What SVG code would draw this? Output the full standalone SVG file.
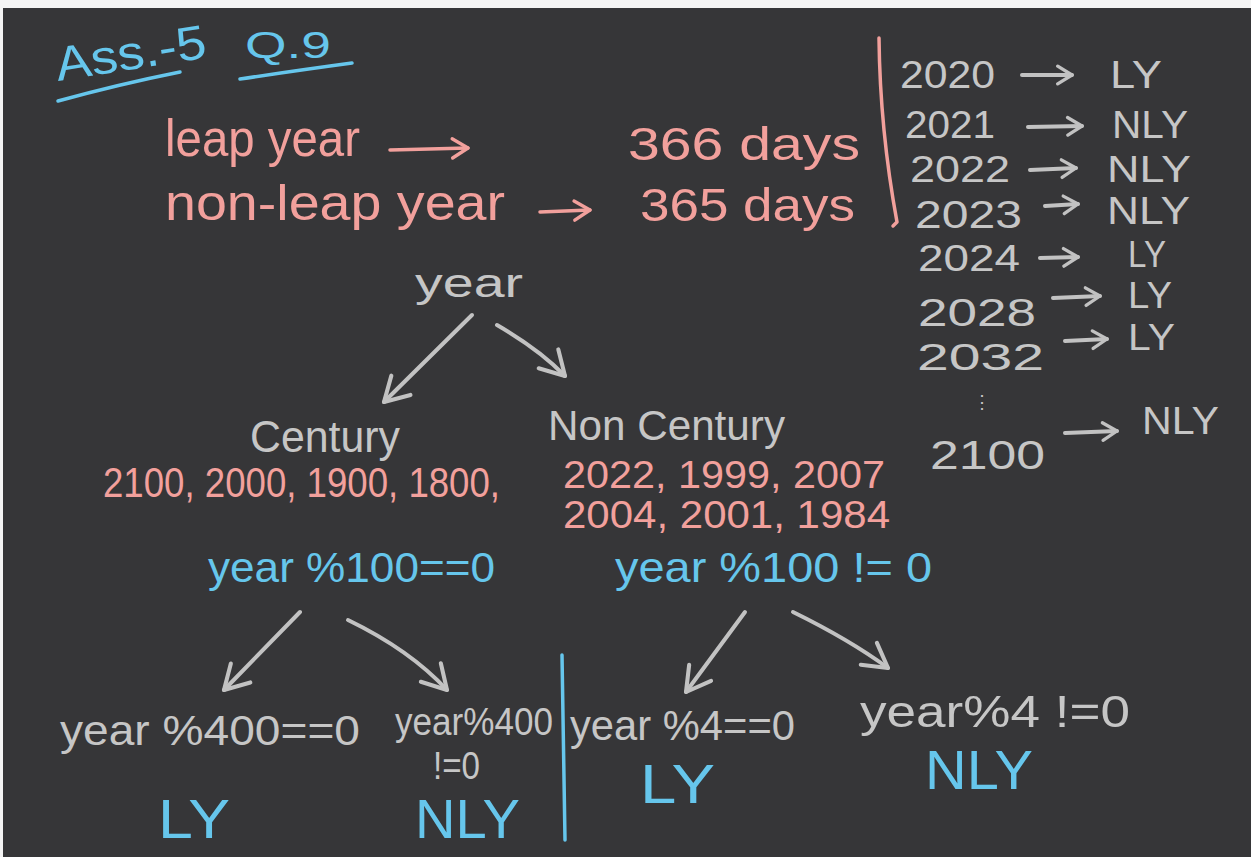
<svg xmlns="http://www.w3.org/2000/svg" width="1251" height="857" viewBox="0 0 1251 857">
<defs>
<style>
text{font-family:"Liberation Sans",Arial,sans-serif;font-weight:400;}
.cy{fill:#66c6ec;}
.pk{fill:#f2a09c;}
.gy{fill:#c6c6c6;}
.big{font-size:56px;}
.ln{fill:none;stroke-linecap:round;stroke-linejoin:round;}
.gyl{stroke:#c2c2c2;stroke-width:4;}
.pkl{stroke:#f2a09c;stroke-width:3.5;}
.cyl{stroke:#66c6ec;stroke-width:3.5;}
</style>
<marker id="hg" viewBox="0 0 20 20" refX="17" refY="10" markerWidth="34" markerHeight="34" markerUnits="userSpaceOnUse" orient="auto">
<path d="M3,2 L17,10 L3,18" fill="none" stroke="#c2c2c2" stroke-width="2.4" stroke-linecap="round" stroke-linejoin="round"/>
</marker>
<marker id="hgs" viewBox="0 0 20 20" refX="17" refY="10" markerWidth="22" markerHeight="22" markerUnits="userSpaceOnUse" orient="auto">
<path d="M4,2 L17,10 L4,18" fill="none" stroke="#c2c2c2" stroke-width="3" stroke-linecap="round" stroke-linejoin="round"/>
</marker>
<marker id="hp" viewBox="0 0 20 20" refX="17" refY="10" markerWidth="24" markerHeight="24" markerUnits="userSpaceOnUse" orient="auto">
<path d="M4,2 L17,10 L4,18" fill="none" stroke="#f2a09c" stroke-width="2.8" stroke-linecap="round" stroke-linejoin="round"/>
</marker>
</defs>
<rect x="0" y="0" width="1251" height="857" fill="#f4f4f4"/>
<rect x="3" y="8" width="1248" height="849" fill="#363638"/>

<g id="title">
<text class="cy" x="58" y="81" font-size="48" textLength="152" lengthAdjust="spacingAndGlyphs" transform="rotate(-9 58 81)">Ass.-5</text>
<text class="cy" x="245" y="58" font-size="36" textLength="86" lengthAdjust="spacingAndGlyphs">Q.9</text>
<path class="ln cyl" d="M58,101 Q120,84 180,72"/>
<path class="ln cyl" d="M240,79 Q300,70 352,63"/>
</g>

<g id="definitions">
<text class="pk" x="165" y="156" font-size="52" textLength="195" lengthAdjust="spacingAndGlyphs">leap year</text>
<text class="pk" x="628" y="160" font-size="46" textLength="232" lengthAdjust="spacingAndGlyphs">366 days</text>
<text class="pk" x="165" y="220" font-size="50" textLength="340" lengthAdjust="spacingAndGlyphs">non-leap year</text>
<text class="pk" x="640" y="221" font-size="46" textLength="215" lengthAdjust="spacingAndGlyphs">365 days</text>
<path class="ln pkl" d="M390,150 L468,148" marker-end="url(#hp)"/>
<path class="ln pkl" d="M540,212 L590,210" marker-end="url(#hp)"/>
<path class="ln pkl" d="M879,38 Q880,130 897,222 L893,226"/>
</g>

<g id="year-list">
<text class="gy" x="900" y="88" font-size="38" textLength="95" lengthAdjust="spacingAndGlyphs">2020</text>
<text class="gy" x="1110" y="88" font-size="38" textLength="52" lengthAdjust="spacingAndGlyphs">LY</text>
<text class="gy" x="905" y="138" font-size="38" textLength="90" lengthAdjust="spacingAndGlyphs">2021</text>
<text class="gy" x="1112" y="138" font-size="38" textLength="76" lengthAdjust="spacingAndGlyphs">NLY</text>
<text class="gy" x="910" y="182" font-size="36" textLength="100" lengthAdjust="spacingAndGlyphs">2022</text>
<text class="gy" x="1107" y="182" font-size="36" textLength="84" lengthAdjust="spacingAndGlyphs">NLY</text>
<text class="gy" x="915" y="228" font-size="38" textLength="107" lengthAdjust="spacingAndGlyphs">2023</text>
<text class="gy" x="1107" y="224" font-size="38" textLength="83" lengthAdjust="spacingAndGlyphs">NLY</text>
<text class="gy" x="918" y="271" font-size="36" textLength="102" lengthAdjust="spacingAndGlyphs">2024</text>
<text class="gy" x="1128" y="267" font-size="36" textLength="38" lengthAdjust="spacingAndGlyphs">LY</text>
<text class="gy" x="918" y="326" font-size="38" textLength="118" lengthAdjust="spacingAndGlyphs">2028</text>
<text class="gy" x="1128" y="308" font-size="36" textLength="44" lengthAdjust="spacingAndGlyphs">LY</text>
<text class="gy" x="917" y="370" font-size="36" textLength="127" lengthAdjust="spacingAndGlyphs">2032</text>
<text class="gy" x="1128" y="350" font-size="36" textLength="47" lengthAdjust="spacingAndGlyphs">LY</text>
<text class="gy" x="973" y="408" font-size="18">⋮</text>
<text class="gy" x="930" y="469" font-size="40" textLength="115" lengthAdjust="spacingAndGlyphs">2100</text>
<text class="gy" x="1142" y="434" font-size="38" textLength="77" lengthAdjust="spacingAndGlyphs">NLY</text>
<path class="ln gyl" d="M1022,75 L1072,75" marker-end="url(#hgs)"/>
<path class="ln gyl" d="M1028,127 L1082,126" marker-end="url(#hgs)"/>
<path class="ln gyl" d="M1030,170 L1076,168" marker-end="url(#hgs)"/>
<path class="ln gyl" d="M1045,206 L1078,204" marker-end="url(#hgs)"/>
<path class="ln gyl" d="M1040,258 L1078,257" marker-end="url(#hgs)"/>
<path class="ln gyl" d="M1053,298 L1100,296" marker-end="url(#hgs)"/>
<path class="ln gyl" d="M1065,341 L1107,339" marker-end="url(#hgs)"/>
<path class="ln gyl" d="M1065,433 L1117,431" marker-end="url(#hgs)"/>
</g>

<g id="node-year"><text class="gy" x="415" y="297" font-size="40" textLength="108" lengthAdjust="spacingAndGlyphs">year</text></g>

<g id="node-century">
<text class="gy" x="250" y="452" font-size="44" textLength="150" lengthAdjust="spacingAndGlyphs">Century</text>
<text class="pk" x="103" y="497" font-size="42" textLength="397" lengthAdjust="spacingAndGlyphs">2100, 2000, 1900, 1800,</text>
<text class="cy" x="208" y="582" font-size="42" textLength="287" lengthAdjust="spacingAndGlyphs">year %100==0</text>
</g>

<g id="node-noncentury">
<text class="gy" x="548" y="440" font-size="42" textLength="237" lengthAdjust="spacingAndGlyphs">Non Century</text>
<text class="pk" x="563" y="488" font-size="38" textLength="322" lengthAdjust="spacingAndGlyphs">2022, 1999, 2007</text>
<text class="pk" x="563" y="528" font-size="38" textLength="327" lengthAdjust="spacingAndGlyphs">2004, 2001, 1984</text>
<text class="cy" x="615" y="582" font-size="42" textLength="317" lengthAdjust="spacingAndGlyphs">year %100 != 0</text>
</g>

<g id="node-400-eq">
<text class="gy" x="60" y="745" font-size="42" textLength="300" lengthAdjust="spacingAndGlyphs">year %400==0</text>
<text class="cy big" x="158" y="838" textLength="72" lengthAdjust="spacingAndGlyphs">LY</text>
</g>

<g id="node-400-ne">
<text class="gy" x="395" y="735" font-size="38" textLength="158" lengthAdjust="spacingAndGlyphs">year%400</text>
<text class="gy" x="433" y="779" font-size="38" textLength="47" lengthAdjust="spacingAndGlyphs">!=0</text>
<text class="cy big" x="415" y="838" textLength="105" lengthAdjust="spacingAndGlyphs">NLY</text>
</g>

<g id="node-4-eq">
<text class="gy" x="570" y="740" font-size="42" textLength="225" lengthAdjust="spacingAndGlyphs">year %4==0</text>
<text class="cy big" x="640" y="803" textLength="75" lengthAdjust="spacingAndGlyphs">LY</text>
</g>

<g id="node-4-ne">
<text class="gy" x="860" y="727" font-size="44" textLength="270" lengthAdjust="spacingAndGlyphs">year%4 !=0</text>
<text class="cy big" x="925" y="789" textLength="108" lengthAdjust="spacingAndGlyphs">NLY</text>
</g>

<g id="connectors">
<path class="ln gyl" d="M472,315 L384,402" marker-end="url(#hg)"/>
<path class="ln gyl" d="M497,325 Q540,350 565,376" marker-end="url(#hg)"/>
<path class="ln gyl" d="M300,612 L224,690" marker-end="url(#hg)"/>
<path class="ln gyl" d="M348,620 Q410,650 447,690" marker-end="url(#hg)"/>
<path class="ln gyl" d="M745,612 L686,692" marker-end="url(#hg)"/>
<path class="ln gyl" d="M793,612 Q850,640 888,668" marker-end="url(#hg)"/>
<path class="ln cyl" d="M562,655 L565,840" stroke-width="2.5"/>
</g>
</svg>
